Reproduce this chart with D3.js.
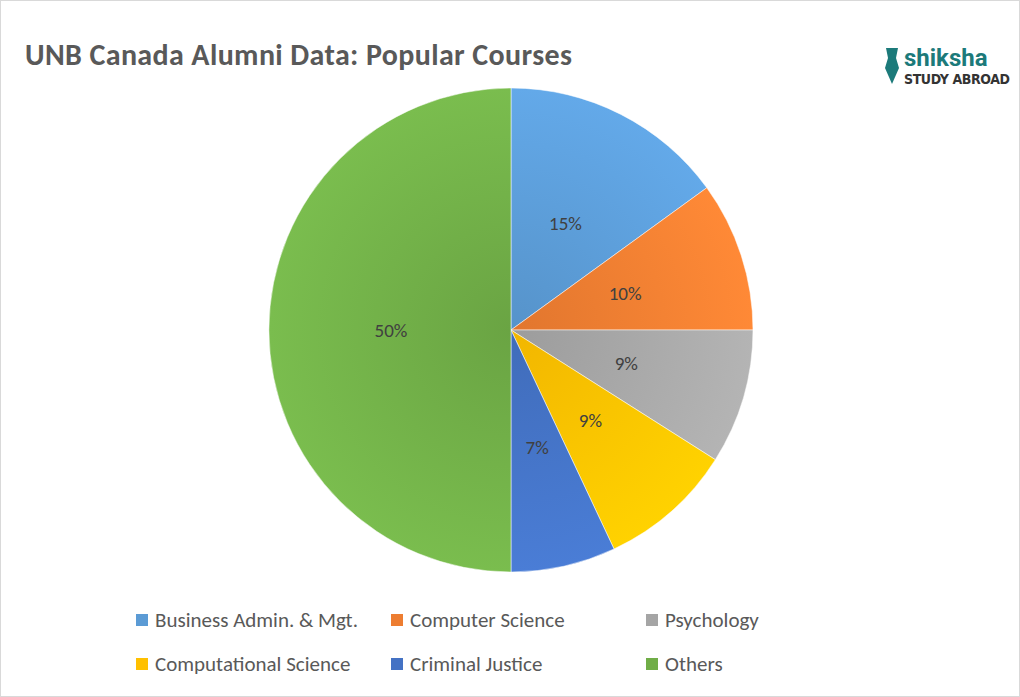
<!DOCTYPE html>
<html><head><meta charset="utf-8">
<script src="https://cdn.jsdelivr.net/npm/d3@7"></script>
<style>body{margin:0;background:#fff;font-family:Calibri,Carlito,"Open Sans",sans-serif}</style>
</head><body><svg id="chart" width="1020" height="697"></svg>
<script>
// chart data
let courses = ["Business Admin. & Mgt.", "Computer Science", "Psychology", "Computational Science", "Criminal Justice", "Others"];
let shares = [15, 10, 9, 9, 7, 50];
let colors = ["#5b9bd5", "#ed7d31", "#a5a5a5", "#ffc000", "#4472c4", "#70ad47"];

let svg = d3.select("#chart");
let defs = svg.append("defs");
colors.forEach(function(c, i) {
  let g = defs.append("radialGradient").attr("id", "g" + i)
    .attr("gradientUnits", "userSpaceOnUse").attr("cx", 0).attr("cy", 0).attr("r", 242);
  g.append("stop").attr("offset", "0%").attr("stop-color", d3.color(c).darker(0.15));
  g.append("stop").attr("offset", "100%").attr("stop-color", d3.color(c).brighter(0.25));
});

svg.append("rect").attr("x", 0.5).attr("y", 0.5).attr("width", 1019).attr("height", 696)
  .attr("fill", "none").attr("stroke", "#d9d9d9");

svg.append("text").attr("x", 25).attr("y", 65).attr("font-size", 30).attr("font-weight", "bold")
  .attr("textLength", 547).attr("fill", "#595959").text("UNB Canada Alumni Data: Popular Courses");

// logo
let logo = svg.append("g").attr("transform", "translate(882,46)");
logo.append("path").attr("d", "M4,2 L16,2 L14,12 L17,22 L10,38 L3,22 L6,12 Z").attr("fill", "#1c7a7a");
logo.append("text").attr("x", 22).attr("y", 20).attr("font-size", 24).attr("font-weight", "bold")
  .attr("font-family", "Roboto, sans-serif").attr("fill", "#1c7a7a").text("shiksha");
logo.append("text").attr("x", 22).attr("y", 38).attr("font-size", 14).attr("font-weight", "bold")
  .attr("textLength", 106).attr("font-family", "'DejaVu Sans Condensed', sans-serif").attr("fill", "#333").text("STUDY ABROAD");

let pie = d3.pie().sort(null).value(d => d);
let arc = d3.arc().innerRadius(0).outerRadius(242);
let labelArc = d3.arc().innerRadius(120).outerRadius(120);
let g = svg.append("g").attr("transform", "translate(511,330)");
let arcs = pie(shares);
g.selectAll("path").data(arcs).enter().append("path")
  .attr("d", arc).attr("fill", (d, i) => "url(#g" + i + ")")
  .attr("stroke", "#fff").attr("stroke-width", 0.5);
g.selectAll("text").data(arcs).enter().append("text")
  .attr("transform", d => "translate(" + labelArc.centroid(d) + ")")
  .attr("text-anchor", "middle").attr("dy", "0.35em").attr("font-size", 19).attr("fill", "#404040")
  .text(d => d.data + "%");

// legend
let cols = [136, 391, 646];
let leg = svg.selectAll(".leg").data(courses).enter().append("g")
  .attr("transform", (d, i) => "translate(" + cols[i % 3] + "," + (i < 3 ? 620 : 664) + ")");
leg.append("rect").attr("x", 0).attr("y", -6).attr("width", 12).attr("height", 12)
  .attr("fill", (d, i) => colors[i]);
leg.append("text").attr("x", 19).attr("dy", "0.35em").attr("font-size", 21).attr("fill", "#595959")
  .text(d => d);
</script></body></html>
